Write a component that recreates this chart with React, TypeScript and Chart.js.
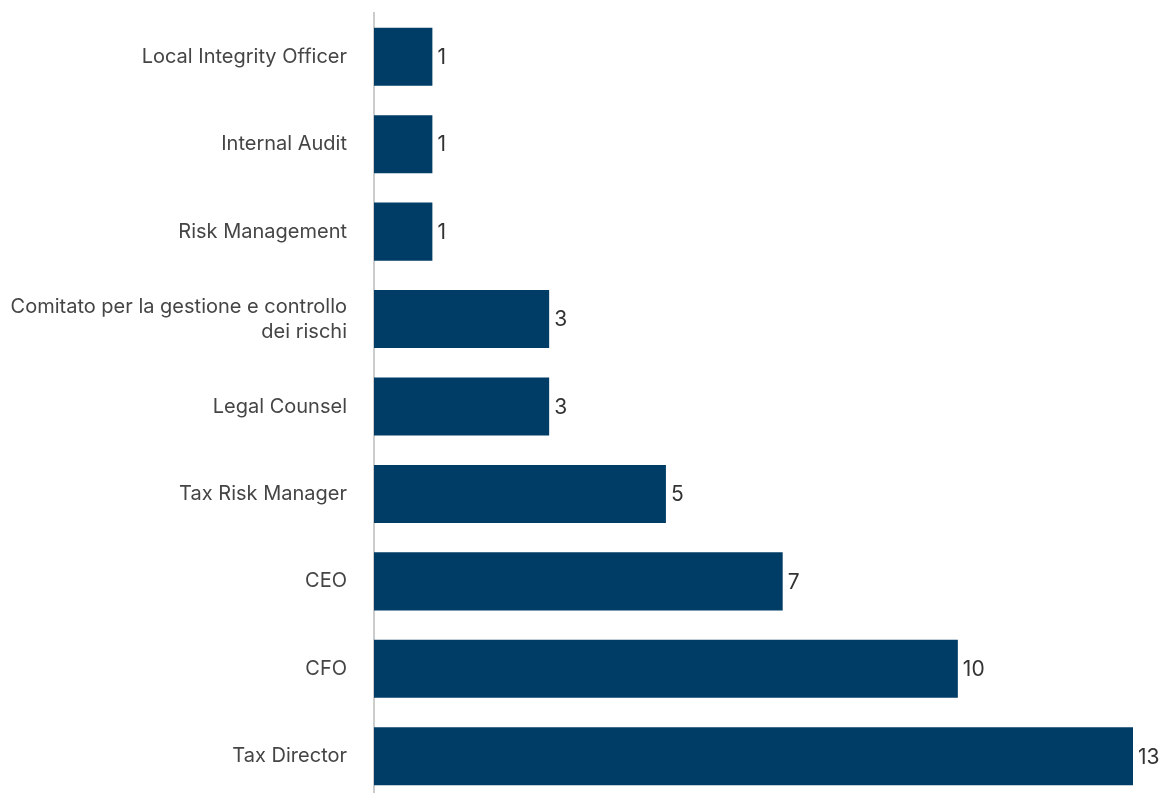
import React, { useEffect, useRef } from "react";
import { Chart, registerables } from "chart.js";

Chart.register(...registerables);

const categories: (string | string[])[] = [
  "Local Integrity Officer",
  "Internal Audit",
  "Risk Management",
  ["Comitato per la gestione e controllo", "dei rischi"],
  "Legal Counsel",
  "Tax Risk Manager",
  "CEO",
  "CFO",
  "Tax Director",
];
const values: number[] = [1, 1, 1, 3, 3, 5, 7, 10, 13];

const valueLabels = {
  id: "valueLabels",
  afterDatasetsDraw(chart: any) {
    const ctx = chart.ctx;
    const meta = chart.getDatasetMeta(0);
    ctx.save();
    ctx.font = "21px Inter";
    ctx.fillStyle = "#333333";
    ctx.textAlign = "left";
    ctx.textBaseline = "middle";
    meta.data.forEach((bar: any, i: number) => {
      ctx.fillText(String(values[i]), bar.x + 5, bar.y + 1);
    });
    ctx.restore();
  },
};

export default function App() {
  const ref = useRef<HTMLCanvasElement>(null);
  useEffect(() => {
    if (!ref.current) return;
    const chart = new Chart(ref.current, {
      type: "bar",
      data: {
        labels: categories,
        datasets: [
          {
            data: values,
            backgroundColor: "#003d66",
            categoryPercentage: 1,
            barPercentage: 0.664,
          },
        ],
      },
      options: {
        indexAxis: "y",
        animation: false,
        responsive: true,
        maintainAspectRatio: false,
        layout: { padding: { top: 13, right: 31, bottom: 0, left: 0 } },
        plugins: {
          legend: { display: false },
          tooltip: { enabled: false },
        },
        scales: {
          x: { display: false, min: 0, max: 13 },
          y: {
            grid: { display: false, drawTicks: false },
            border: { display: true, color: "#cccccc", width: 2 },
            ticks: {
              padding: 27,
              color: "#454545",
              font: { family: "Inter", size: 20, lineHeight: 1.25 },
            },
            afterFit(scale: any) {
              scale.width = 374;
              scale.paddingTop = 0;
              scale.paddingBottom = 0;
            },
          },
        },
      },
      plugins: [valueLabels],
    });
    return () => chart.destroy();
  }, []);
  return (
    <div style={{ position: "absolute", left: 0, top: 0, width: 1164, height: 800 }}>
      <canvas ref={ref} />
    </div>
  );
}
